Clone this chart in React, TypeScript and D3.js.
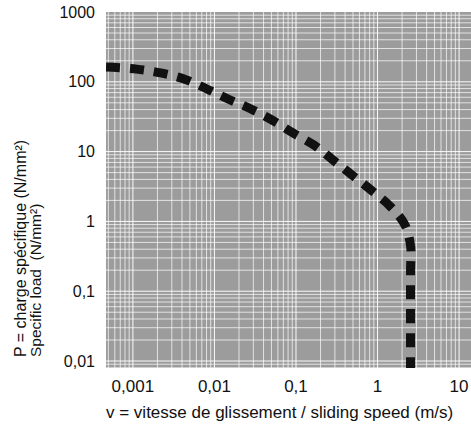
import React from "react";
import * as d3 from "d3";

const W = 471;
const H = 427;

// Curve: sliding speed (m/s) vs specific load (N/mm²)
const speed = [0.000468, 0.00111, 0.00219, 0.00423, 0.00809, 0.0147, 0.028, 0.0508, 0.0919, 0.166, 0.284, 0.486, 0.832, 1.42, 2.17, 2.55, 2.54, 2.54];
const load = [163, 152, 134, 110, 78.9, 56.7, 40.8, 28.4, 18.5, 12.4, 7.59, 4.62, 2.82, 1.66, 0.89, 0.43, 0.2, 0.006];

const xTicks = [0.001, 0.01, 0.1, 1, 10];
const xTickLabels = ["0,001", "0,01", "0,1", "1", "10"];
const yTicks = [1000, 100, 10, 1, 0.1, 0.01];
const yTickLabels = ["1000", "100", "10", "1", "0,1", "0,01"];

const xTitle = "v = vitesse de glissement / sliding speed (m/s)";
const yTitle1 = "P = charge spécifique (N/mm²)";
const yTitle2 = "Specific load  (N/mm²)";

const plot = { left: 106, top: 12, right: 471, bottom: 368 };

export default function App() {
  const x = d3.scaleLog().domain([0.000468, 14]).range([plot.left, plot.right]);
  const y = d3.scaleLog().domain([Math.pow(10, -2.1), 1000]).range([plot.bottom, plot.top]);

  const gridX: number[] = [];
  const gridY: number[] = [];
  for (let d = -5; d <= 3; d++) {
    for (let m = 1; m <= 9; m++) {
      const v = m * Math.pow(10, d);
      const [x0, x1] = x.domain();
      if (v > x0 && v < x1) gridX.push(v);
      const [y0, y1] = y.domain();
      if (v > y0 && v < y1) gridY.push(v);
    }
  }
  const isDecade = (v: number) => Math.abs(Math.log10(v) - Math.round(Math.log10(v))) < 1e-9;

  const pts: [number, number][] = speed.map((s, i) => [x(s), y(load[i])]);
  const line = d3.line<[number, number]>().x((d) => d[0]).y((d) => d[1]).curve(d3.curveCatmullRom.alpha(0.5));

  const font = "'Liberation Sans', Arial, sans-serif";

  return (
    <svg width={W} height={H} style={{ position: "absolute", left: 0, top: 0, background: "#fff" }} fontFamily={font}>
      <defs>
        <clipPath id="plotclip">
          <rect x={plot.left} y={plot.top} width={plot.right - plot.left} height={plot.bottom - plot.top} />
        </clipPath>
      </defs>
      <rect x={plot.left} y={plot.top} width={plot.right - plot.left} height={plot.bottom - plot.top} fill="#9c9c9c" />
      <g clipPath="url(#plotclip)">
        {gridX.map((v, i) => (
          <line key={"gx" + i} x1={x(v)} x2={x(v)} y1={plot.top} y2={plot.bottom} stroke="#fff" strokeWidth={1} strokeOpacity={isDecade(v) ? 0.95 : 0.7} />
        ))}
        {gridY.map((v, i) => (
          <line key={"gy" + i} x1={plot.left} x2={plot.right} y1={y(v)} y2={y(v)} stroke="#fff" strokeWidth={1} strokeOpacity={isDecade(v) ? 0.95 : 0.7} />
        ))}
        <path d={line(pts) || ""} fill="none" stroke="#111" strokeWidth={9} strokeDasharray="14 10" />
      </g>
      {yTicks.map((t, i) => (
        <text key={"yt" + i} x={95} y={y(t)} dy="0.35em" textAnchor="end" fontSize={16} fill="#111">
          {yTickLabels[i]}
        </text>
      ))}
      {xTicks.map((t, i) => (
        <text key={"xt" + i} x={x(t)} y={386} dy="0.35em" textAnchor="middle" fontSize={17} fill="#111">
          {xTickLabels[i]}
        </text>
      ))}
      <text x={106} y={418} textAnchor="start" fontSize={17} fill="#111">
        {xTitle}
      </text>
      <text transform="translate(26,357) rotate(-90)" textAnchor="start" fontSize={16} fill="#111">
        {yTitle1}
      </text>
      <text transform="translate(41,357) rotate(-90)" textAnchor="start" fontSize={15.5} fill="#111" style={{ whiteSpace: "pre" }}>
        {yTitle2}
      </text>
    </svg>
  );
}
